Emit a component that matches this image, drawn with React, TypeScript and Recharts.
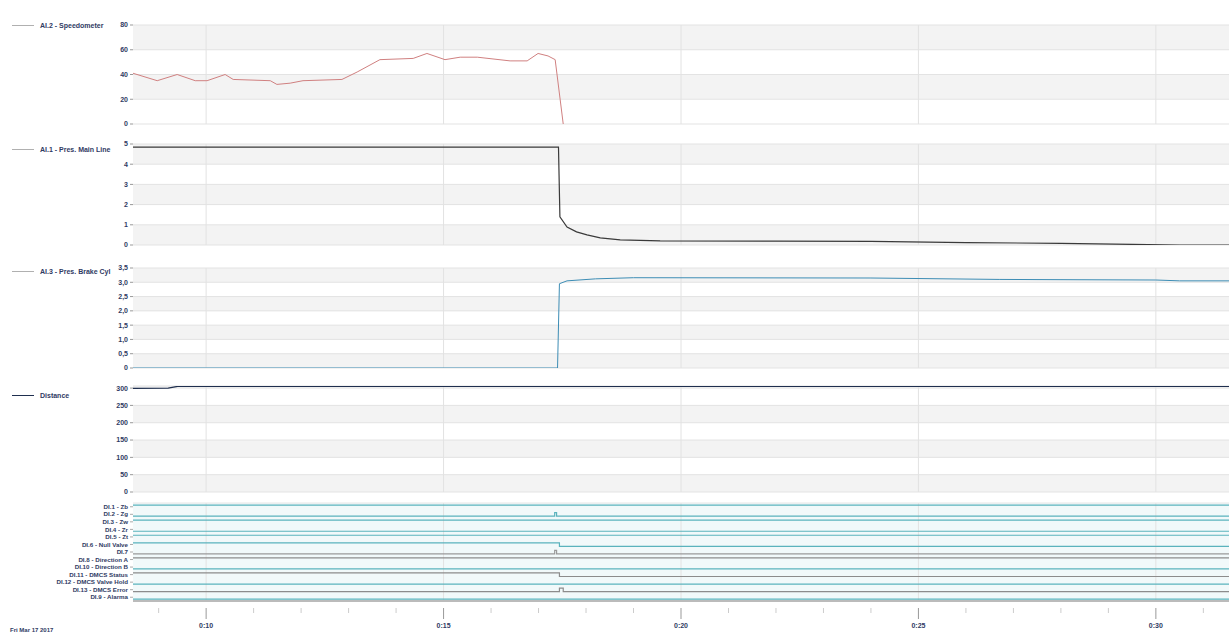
import { CartesianGrid, Line, LineChart, ReferenceLine, XAxis, YAxis } from "recharts";

const W = 1229;
const X_MIN = 8.46;
const X_MAX = 31.54;
const FONT = "'Liberation Sans', Arial, sans-serif";
const TEXT = "#2f3a63";

// time axis (seconds)
const majorTicks = [10, 15, 20, 25, 30];
const secondTicks = [9, 10, 11, 12, 13, 14, 15, 16, 17, 18, 19, 20, 21, 22, 23, 24, 25, 26, 27, 28, 29, 30, 31];

// AI.2 - Speedometer
const speedTime = [8.46, 8.97, 9.39, 9.77, 10.02, 10.4, 10.57, 11.35, 11.49, 11.77, 12.04, 12.86, 13.18, 13.66, 14.36, 14.65, 15.03, 15.35, 15.71, 16.4, 16.76, 16.99, 17.2, 17.35, 17.52];
const speedValue = [41, 35, 40, 35, 35, 40, 36, 35, 32, 33, 35, 36, 42, 52, 53, 57, 52, 54, 54, 51, 51, 57, 55, 52, 0];
const speedTicks = [0, 20, 40, 60, 80];

// AI.1 - Pres. Main Line
const mainTime = [8.46, 17.42, 17.45, 17.6, 17.8, 18.02, 18.3, 18.72, 19.56, 22, 24, 26, 28, 29.5, 30.5, 31.54];
const mainValue = [4.85, 4.85, 1.39, 0.89, 0.65, 0.5, 0.35, 0.25, 0.2, 0.19, 0.18, 0.12, 0.08, 0.03, 0.0, 0.0];
const mainTicks = [0, 1, 2, 3, 4, 5];

// AI.3 - Pres. Brake Cyl
const brakeTime = [8.46, 17.4, 17.44, 17.6, 18.2, 19, 24, 26.7, 30, 30.5, 31.54];
const brakeValue = [0, 0, 2.95, 3.05, 3.12, 3.16, 3.15, 3.1, 3.08, 3.05, 3.05];
const brakeTicks = [0, 0.5, 1, 1.5, 2, 2.5, 3, 3.5];

// Distance
const distTime = [8.46, 9.2, 9.4, 31.54];
const distValue = [299, 300, 305, 305];
const distTicks = [0, 50, 100, 150, 200, 250, 300];

// digital inputs (top to bottom), state at each change time
const digitalNames = [
  "DI.1 - Zb",
  "DI.2 - Zg",
  "DI.3 - Zw",
  "DI.4 - Zr",
  "DI.5 - Zt",
  "DI.6 - Null Valve",
  "DI.7",
  "DI.8 - Direction A",
  "DI.10 - Direction B",
  "DI.11 - DMCS Status",
  "DI.12 - DMCS Valve Hold",
  "DI.13 - DMCS Error",
  "DI.9 - Alarma",
];
const digitalTimes = [8.46, 17.34, 17.38, 17.44, 17.52, 31.54];
const digitalStates = [
  [1, 1, 1, 1, 1, 1],
  [0, 1, 0, 0, 0, 0],
  [1, 1, 1, 1, 1, 1],
  [0, 0, 0, 0, 0, 0],
  [1, 1, 1, 1, 1, 1],
  [1, 1, 1, 0, 0, 0],
  [0, 1, 0, 0, 0, 0],
  [1, 1, 1, 1, 1, 1],
  [0, 0, 0, 0, 0, 0],
  [1, 1, 1, 0, 0, 0],
  [0, 0, 0, 0, 0, 0],
  [0, 0, 0, 1, 0, 0],
  [0, 0, 0, 0, 0, 0],
];
const digitalColors = ["#5ab3bd", "#5ab3bd", "#5ab3bd", "#5ab3bd", "#5ab3bd", "#5ab3bd", "#9a9a9a", "#8c8c8c", "#5ab3bd", "#8c8c8c", "#5ab3bd", "#8c8c8c", "#5ab3bd"];

const toRows = (ts: number[], vs: number[]) => ts.map((t, i) => ({ t, v: vs[i] }));

const nChan = digitalNames.length;
const digitalRows = digitalTimes.map((t, k) => {
  const row: Record<string, number> = { t };
  digitalStates.forEach((s, i) => {
    row["c" + i] = nChan - 1 - i + (s[k] ? 0.72 : 0.25);
  });
  return row;
});
const bandTicks = Array.from({ length: nChan + 1 }, (_, i) => i);
const nameTicks = digitalNames.map((_, i) => nChan - 0.5 - i);

const comma = (v: number) => (v === 0 ? "0" : v.toFixed(1).replace(".", ","));

function ValueTick(props: any) {
  const { x, y, payload, fmt, size, weight = 600 } = props;
  const v = payload.value as number;
  return (
    <text x={x} y={y} dy={size * 0.35} textAnchor="end" fontSize={size} fontWeight={weight} fill={TEXT} fontFamily={FONT}>
      {fmt ? fmt(v) : String(v)}
    </text>
  );
}

type PanelProps = {
  top: number;
  bottom: number;
  domain: [number, number];
  ticks: number[];
  fmt?: (v: number) => string;
  data: Array<{ t: number; v: number }>;
  color: string;
  width?: number;
};

function Panel({ top, bottom, domain, ticks, fmt, data, color, width = 1 }: PanelProps) {
  const pad = 6;
  return (
    <div style={{ position: "absolute", left: 0, top: top - pad }}>
      <LineChart width={W} height={bottom - top + pad * 2} margin={{ top: pad, right: 0, bottom: pad, left: 0 }}>
        <CartesianGrid vertical={false} stroke="#e3e3e3" horizontalFill={["#f3f3f3", "#ffffff"]} />
        <XAxis type="number" dataKey="t" domain={[X_MIN, X_MAX]} allowDataOverflow hide />
        <YAxis
          width={133}
          domain={domain}
          ticks={ticks}
          interval={0}
          allowDataOverflow
          axisLine={false}
          tickSize={3}
          tickMargin={2}
          tickLine={{ stroke: "#999" }}
          tick={<ValueTick fmt={fmt} size={7} />}
        />
        {majorTicks.map((t) => (
          <ReferenceLine key={t} x={t} stroke="#e2e2e2" />
        ))}
        <Line data={data} dataKey="v" type="linear" stroke={color} strokeWidth={width} dot={false} isAnimationActive={false} />
      </LineChart>
    </div>
  );
}

function TimeTick(props: any) {
  const { x, y, payload } = props;
  const v = payload.value as number;
  const major = v % 5 === 0;
  const label = `${Math.floor(v / 60)}:${String(v % 60).padStart(2, "0")}`;
  return (
    <g>
      <line x1={x} x2={x} y1={y + 5} y2={y + (major ? 16 : 10)} stroke={major ? "#999" : "#ccc"} />
      {major && (
        <text x={x} y={y + 25} textAnchor="middle" fontSize={7} fontWeight={600} fill={TEXT} fontFamily={FONT}>
          {label}
        </text>
      )}
    </g>
  );
}

const nameFmt = (v: number) => digitalNames[Math.round(nChan - 0.5 - v)];

function DigitalPanel() {
  const top = 503;
  const bottom = 601;
  const pad = 3;
  return (
    <div style={{ position: "absolute", left: 0, top: top - pad }}>
      <LineChart width={W} height={bottom - top + pad + 34} margin={{ top: pad, right: 0, bottom: 0, left: 0 }} data={digitalRows}>
        <CartesianGrid vertical={false} yAxisId="band" stroke="#e6e6e6" horizontalFill={["#f1f9fa", "#ffffff"]} />
        <XAxis
          type="number"
          dataKey="t"
          domain={[X_MIN, X_MAX]}
          allowDataOverflow
          ticks={secondTicks}
          interval={0}
          height={34}
          tickSize={0}
          tickLine={false}
          axisLine={{ stroke: "#bbb", strokeWidth: 2 }}
          tick={<TimeTick />}
        />
        <YAxis yAxisId="band" orientation="right" width={0} hide domain={[0, nChan]} ticks={bandTicks} interval={0} />
        <YAxis
          yAxisId="names"
          width={133}
          domain={[0, nChan]}
          ticks={nameTicks}
          interval={0}
          axisLine={false}
          tickSize={3}
          tickMargin={2}
          tickLine={{ stroke: "#aaa" }}
          tick={<ValueTick fmt={nameFmt} size={6.2} weight={600} />}
        />
        {majorTicks.map((t) => (
          <ReferenceLine key={t} x={t} yAxisId="names" stroke="#e2e2e2" />
        ))}
        {digitalNames.map((n, i) => (
          <Line
            key={n}
            yAxisId="names"
            dataKey={"c" + i}
            type="stepAfter"
            stroke={digitalColors[i]}
            strokeWidth={1.2}
            dot={false}
            isAnimationActive={false}
          />
        ))}
      </LineChart>
    </div>
  );
}

function SideLabel({ y, text, color }: { y: number; text: string; color: string }) {
  return (
    <div style={{ position: "absolute", left: 12, top: y - 5, height: 10, display: "flex", alignItems: "center", fontFamily: FONT, fontSize: 7, fontWeight: 600, color: TEXT, whiteSpace: "nowrap" }}>
      <span style={{ display: "inline-block", width: 22, height: 0, borderTop: `1px solid ${color}`, marginRight: 6 }} />
      {text}
    </div>
  );
}

export default function App() {
  return (
    <div style={{ position: "absolute", left: 0, top: 0, width: W, height: 637, background: "#fff", overflow: "hidden" }}>
      <Panel top={25} bottom={124} domain={[0, 80]} ticks={speedTicks} data={toRows(speedTime, speedValue)} color="#d08080" />
      <Panel top={144} bottom={245} domain={[0, 5]} ticks={mainTicks} data={toRows(mainTime, mainValue)} color="#3a3a3a" width={1.2} />
      <Panel top={268} bottom={368} domain={[0, 3.5]} ticks={brakeTicks} fmt={comma} data={toRows(brakeTime, brakeValue)} color="#3d8db5" />
      <Panel top={386} bottom={492} domain={[0, 306]} ticks={distTicks} data={toRows(distTime, distValue)} color="#1f2f4f" width={1.2} />
      <DigitalPanel />
      <SideLabel y={25} text="AI.2 - Speedometer" color="#b0b0b0" />
      <SideLabel y={149} text="AI.1 - Pres. Main Line" color="#b0b0b0" />
      <SideLabel y={271} text="AI.3 - Pres. Brake Cyl" color="#b0b0b0" />
      <SideLabel y={395} text="Distance" color="#1f2f4f" />
      <div style={{ position: "absolute", left: 10, top: 627, fontFamily: FONT, fontSize: 6, fontWeight: 600, color: TEXT }}>Fri Mar 17 2017</div>
    </div>
  );
}
